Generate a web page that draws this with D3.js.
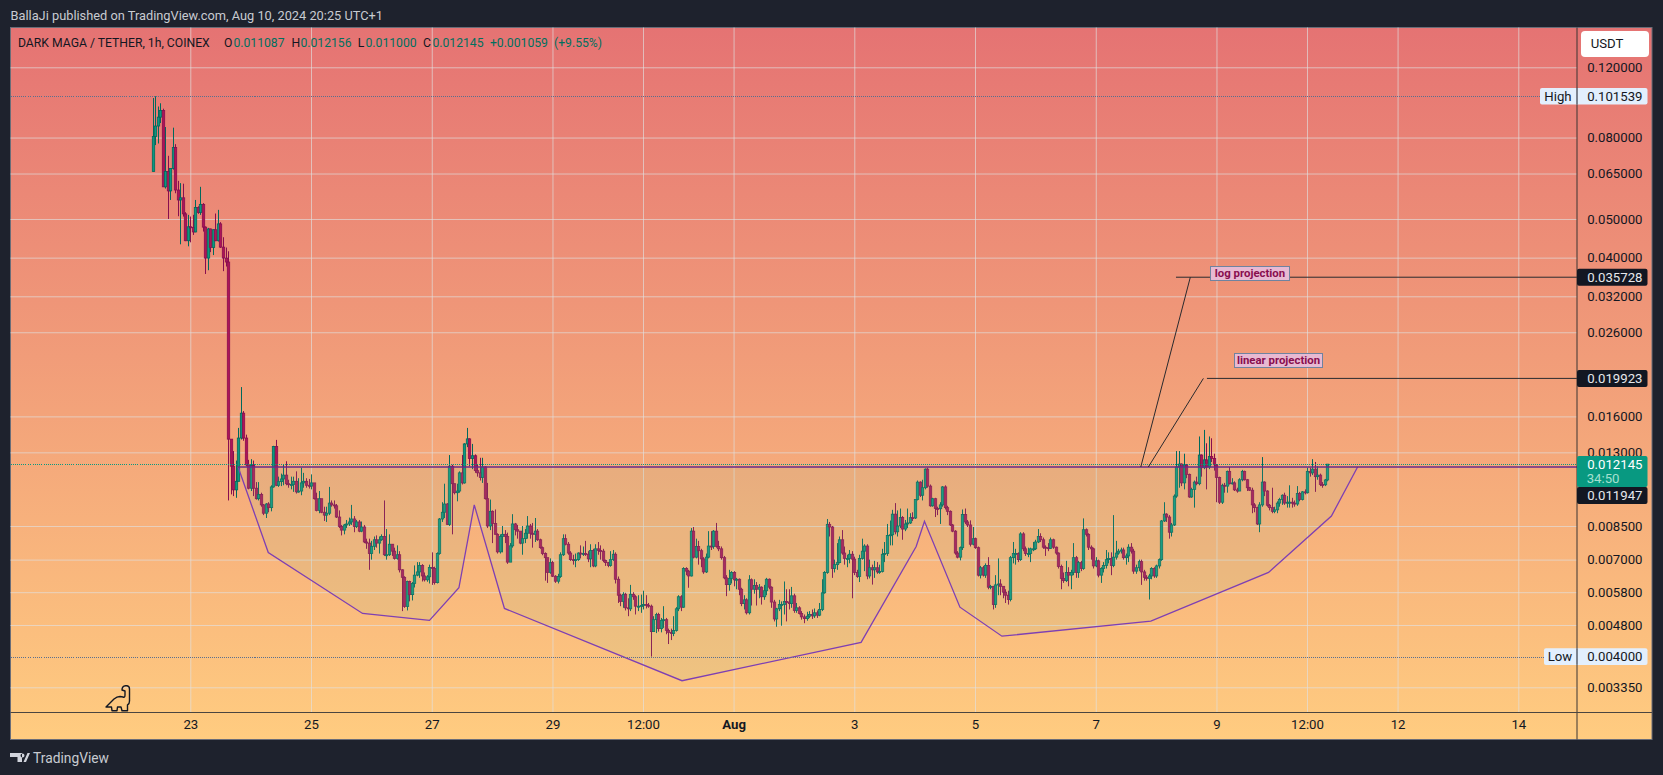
<!DOCTYPE html>
<html><head><meta charset="utf-8">
<style>html,body{margin:0;padding:0;background:#1e222d;overflow:hidden}svg{display:block}text{font-family:Roboto,sans-serif}</style>
<script src="https://cdn.jsdelivr.net/npm/d3@7"></script></head><body><svg id="c" width="1663" height="775"></svg>
<script>
// Prices below are in units of 0.00001 USDT; hourly candles, first one Jul 22 09:00
const priceUnit=1e-5;
const firstOpen=6580;
const closes=[
8050,8550,9000,9350,6020,6580,5880,6690,7550,5910,
5580,5650,5150,4410,4780,4760,4640,5340,5190,5440,
4770,3990,4720,4240,4700,4410,4860,4250,3990,3900,
1403,1200,1047,1100,1412,1630,1412,1210,1057,1205,
1057,995,1020,960,915,965,945,1065,1345,1075,
1098,1115,1140,1085,1080,1080,1100,1035,1040,1090,
1100,1075,1070,1090,995,930,995,920,905,915,
970,960,955,895,847,830,855,860,870,885,
847,870,825,845,775,770,725,756,785,770,
785,800,720,720,765,735,705,720,660,632,
534,617,572,610,640,652,677,637,623,634,
669,665,613,725,885,920,965,858,1200,1085,
1030,1040,1155,1090,1365,1405,1255,1275,1170,1155,
1125,1195,995,850,925,862,810,732,800,810,
800,690,758,860,832,825,770,790,815,850,
815,810,825,785,750,725,708,650,688,636,
618,635,720,790,765,727,700,697,700,727,
723,725,722,703,738,675,745,738,735,697,
688,677,700,722,625,570,550,573,530,527,
573,565,535,535,537,540,538,535,462,495,
510,470,493,495,465,460,457,465,527,565,
532,665,655,637,825,710,755,737,703,652,
710,757,755,825,755,745,708,630,606,628,
650,623,625,590,543,555,515,623,590,603,
590,597,565,585,625,597,548,497,527,540,
540,550,548,543,568,522,530,513,503,498,
505,510,506,515,508,525,578,650,858,845,
665,680,688,785,727,705,705,722,702,650,
635,705,735,757,637,668,660,668,652,654,
722,725,805,808,910,822,850,893,835,860,
865,892,890,990,1095,1015,1060,1180,1070,955,
995,940,939,960,1065,945,925,855,825,727,
710,750,908,870,855,765,790,750,640,668,
640,677,597,600,540,605,608,600,580,570,
556,708,725,725,700,812,745,725,725,745,
745,775,800,785,752,750,747,785,752,727,
673,628,620,650,640,650,708,650,688,665,
832,810,752,745,675,695,640,665,677,700,
705,677,710,727,735,740,708,715,752,735,
655,668,692,652,632,628,637,665,637,675,
700,875,910,895,820,855,1010,1195,1215,1090,
1210,1145,1005,1050,1095,1085,1280,1190,1245,1195,
1270,1255,1210,1125,975,1075,1070,1165,1085,1090,
1047,1040,1110,1165,1110,1060,1045,960,945,860,
960,1095,1040,958,945,925,933,970,990,1015,
970,975,975,970,965,1025,990,1035,1030,1165,
1155,1180,1130,1140,1080,1078,1108.7,1214.5];
const highs=[
10050,10154,9570,9750,9450,8500,7200,6700,8470,7700,
6230,6150,6130,5200,5120,5070,5120,5580,5380,6020,
5480,4790,4750,4730,4710,5160,5270,4910,4500,4240,
4150,1400,1310,1240,1497,1895,1650,1440,1245,1250,
1240,1095,1095,1030,965,970,975,1075,1350,1397,
1130,1150,1215,1235,1110,1130,1130,1165,1120,1190,
1155,1120,1115,1145,1085,1030,1040,985,950,950,
1065,985,985,965,930,855,860,880,892,960,
900,880,880,872,855,790,790,780,800,805,
800,810,985,835,810,765,750,760,735,662,
636,620,620,615,677,690,690,682,650,640,
680,730,672,730,890,975,1085,970,1280,1210,
1085,1085,1165,1280,1370,1497,1410,1365,1285,1215,
1260,1260,1200,1090,990,930,935,815,810,850,
830,818,770,910,865,855,810,850,835,900,
860,865,890,835,790,755,730,700,705,695,
640,645,730,810,810,775,735,720,725,730,
760,755,780,735,765,745,765,775,760,745,
700,690,735,740,730,635,575,580,578,560,
605,580,570,570,572,585,570,545,540,505,
515,515,500,535,500,470,470,505,532,570,
570,670,670,660,840,845,790,780,745,710,
725,825,825,830,865,780,755,715,640,660,
655,655,630,628,595,570,560,640,628,625,
615,608,600,605,630,628,600,555,530,555,
550,617,590,590,598,575,545,535,520,510,
518,520,525,528,522,545,625,655,885,870,
850,700,770,800,830,755,720,740,735,712,
660,720,790,765,765,700,680,695,690,680,
745,775,860,877,933,970,930,940,900,880,
940,915,920,990,1105,1100,1110,1185,1190,1080,
1000,1000,950,975,1070,1075,955,930,860,830,
735,755,935,940,880,878,845,795,755,675,
675,685,710,605,600,640,705,625,600,590,
585,715,775,745,730,820,820,755,750,750,
775,785,835,815,795,760,770,795,790,755,
730,680,650,695,670,660,770,715,695,695,
888,838,815,760,750,710,700,670,690,740,
730,730,905,780,745,750,750,725,765,770,
745,680,700,700,660,640,645,670,670,680,
705,880,975,915,905,865,1020,1310,1310,1220,
1290,1215,1150,1060,1105,1130,1425,1285,1480,1370,
1425,1410,1290,1215,1130,1085,1090,1170,1195,1120,
1100,1060,1120,1175,1170,1115,1065,1060,970,950,
975,1265,1100,1045,965,1060,950,980,1000,1020,
1030,1010,1075,1000,985,1070,1035,1040,1050,1190,
1190,1250,1230,1200,1150,1095,1115,1215.6];
const lows=[
6580,7660,7730,8700,6020,5960,5000,5580,6650,5800,
5080,4320,5070,4400,4270,4370,4560,4630,5150,5120,
4650,3640,3720,4130,4060,4400,4390,4230,3700,3800,
985,1020,1010,1000,1100,1400,1390,1200,1050,1040,
1010,990,985,950,905,890,920,925,1060,1070,
1065,1070,1075,1075,1060,1050,1035,1025,1030,1015,
1060,1060,1055,1050,990,925,915,915,875,870,
905,950,940,890,840,805,810,840,850,855,
820,840,820,820,770,745,660,700,740,750,
725,780,715,700,715,715,700,700,650,520,
530,522,550,553,596,636,630,617,617,616,
610,605,606,610,720,870,890,855,850,810,
1020,980,1030,1080,1085,1340,1200,1180,1155,1130,
1105,1090,990,840,830,770,810,725,725,730,
770,683,690,750,805,790,765,720,770,790,
790,750,775,780,745,718,620,612,645,633,
612,610,630,715,760,720,695,680,670,695,
705,715,715,690,670,670,670,720,700,690,
675,670,672,695,610,545,535,530,522,505,
520,555,510,520,515,525,528,530,400,462,
458,462,460,472,455,430,440,450,462,520,
520,530,640,595,635,705,705,680,670,645,
648,705,740,745,750,735,700,625,567,585,
610,600,590,570,535,525,510,510,537,575,
537,560,540,555,570,590,530,490,475,520,
478,510,490,525,530,515,515,510,495,485,
492,500,497,500,500,505,520,575,645,800,
630,650,660,685,720,680,670,685,560,640,
630,615,700,655,625,628,606,630,645,645,
650,690,715,760,760,810,800,840,785,825,
840,860,875,885,985,1005,985,1050,1060,950,
950,895,905,860,950,935,905,850,820,720,
705,697,740,860,845,755,760,745,635,628,
635,630,590,590,525,530,570,570,560,545,
540,550,685,680,690,695,735,715,710,690,
735,740,770,775,745,715,735,745,745,720,
665,590,612,615,600,590,640,630,630,655,
660,800,740,700,665,670,632,612,650,665,
685,640,670,700,720,725,700,680,690,725,
645,645,655,605,620,620,556,625,630,630,
665,695,870,870,790,800,850,1000,1060,1070,
1050,1120,1000,1000,945,1075,1075,1130,1180,1050,
1180,1230,1170,975,965,965,1030,1030,1080,1080,
1040,1030,1040,1100,1105,1040,1040,915,920,855,
820,950,1010,950,930,915,915,915,950,960,
960,945,945,945,950,955,980,985,1020,1025,
1130,1140,1035,1110,1070,1060,1070,1100];

// Axes
const priceTicks=[0.12,0.08,0.065,0.05,0.04,0.032,0.026,0.016,0.013,0.0085,0.007,0.0058,0.0048,0.00335];
const timeTicks=[["2024-07-23T00","23"],["2024-07-25T00","25"],["2024-07-27T00","27"],["2024-07-29T00","29"],["2024-07-30T12","12:00"],["2024-08-01T00","Aug"],["2024-08-03T00","3"],["2024-08-05T00","5"],["2024-08-07T00","7"],["2024-08-09T00","9"],["2024-08-10T12","12:00"],["2024-08-12T00","12"],["2024-08-14T00","14"]];
// Annotations (hours after Jul 23 00:00, prices in units)
const patternHours=[19,31,68.5,95.1,106.8,112.9,124.9,195.5,266.7,288.6,291.9,306,322.7,381.9,428.7,453.7,464.1];
const patternPrices=[1194.7,729,513,493,595,960,528,348,434,755,873,532,450,491,650,900,1194.7];
const necklinePrice=0.011947, lastPrice=0.012145, highPrice=0.101539, lowPrice=0.004;
const logTarget=0.035728, linTarget=0.019923;
const logLegHours=[377.9,397.6], linLegHours=[380.9,402.8], logLineStart=391.9, linLineStart=404.2;

const P={l:10.5,t:27.5,r:1652,b:739.5,ax:1577,ay:712.5};
const toDate=s=>new Date(s+":00:00Z"), t0=toDate("2024-07-23T00");
const x=d3.scaleUtc().domain([t0,toDate("2024-08-14T00")]).range([190.3,1518.3]);
const xh=h=>x(t0) + (x(toDate("2024-08-14T00"))-x(t0))/(22*24)*h;
const y=d3.scaleLog().domain([0.12,0.00335]).range([67.3,687.3]);
const svg=d3.select("#c"),defs=svg.append("defs");
const g=defs.append("linearGradient").attr("id","bg").attr("x1",0).attr("y1",0).attr("x2",0).attr("y2",1);
g.append("stop").attr("offset",0).attr("stop-color","#e57373");
g.append("stop").attr("offset",1).attr("stop-color","#ffcc80");
svg.append("rect").attr("width",1663).attr("height",775).attr("fill","#1e222d");
svg.append("rect").attr("x",P.l).attr("y",P.t).attr("width",P.r-P.l).attr("height",P.b-P.t).attr("fill","url(#bg)").attr("stroke","#6a6d78").attr("stroke-width",1);

// Grid
const gridColor="rgba(224,224,224,.66)";
const timeDates=timeTicks.map(d=>toDate(d[0]));
const gx=svg.append("g").attr("transform",`translate(0,${P.ay})`).call(d3.axisBottom(x).tickValues(timeDates).tickSize(-(P.ay-P.t)).tickFormat(""));
gx.select(".domain").remove();gx.selectAll("line").attr("stroke",gridColor);
const gy=svg.append("g").attr("transform",`translate(${P.ax},0)`).call(d3.axisLeft(y).tickValues(priceTicks).tickSize(P.ax-P.l).tickFormat(""));
gy.select(".domain").remove();gy.selectAll("line").attr("stroke",gridColor);

// Candles
const candles=closes.map((c,i)=>({t:d3.utcHour.offset(toDate("2024-07-22T09"),i),o:(i?closes[i-1]:firstOpen)*priceUnit,c:c*priceUnit,h:highs[i]*priceUnit,l:lows[i]*priceUnit}));
const upFill="#089981",upEdge="#00695c",dnFill="#ad1457",dnEdge="#880e4f";
const cg=svg.append("g");
cg.selectAll("line").data(candles).join("line").attr("x1",d=>Math.round(x(d.t))+.5).attr("x2",d=>Math.round(x(d.t))+.5)
 .attr("y1",d=>y(d.h)).attr("y2",d=>y(d.l)).attr("stroke",d=>d.c>=d.o?upEdge:dnEdge).attr("stroke-width",1);
cg.selectAll("rect").data(candles).join("rect").attr("x",d=>Math.round(x(d.t))-.7).attr("width",2.4)
 .attr("y",d=>y(Math.max(d.o,d.c))).attr("height",d=>Math.max(1,Math.abs(y(d.o)-y(d.c))))
 .attr("fill",d=>d.c>=d.o?upFill:dnFill).attr("stroke",d=>d.c>=d.o?upEdge:dnEdge).attr("stroke-width",.8);

// Pattern polygon + neckline
const pts=patternHours.map((h,i)=>[xh(h),y(patternPrices[i]*priceUnit)]);
svg.append("path").attr("d",d3.line()(pts)+"Z").attr("fill","rgba(149,195,145,.13)");
svg.append("path").attr("d",d3.line()(pts)).attr("fill","none").attr("stroke","#7e3fb3").attr("stroke-width",1.3);
svg.append("line").attr("x1",xh(patternHours[0])).attr("x2",P.ax).attr("y1",y(necklinePrice)).attr("y2",y(necklinePrice)).attr("stroke","#6a2a8a").attr("stroke-width",1.5);

// Dotted price lines
function dotted(p,col){const yy=Math.round(y(p))+.5;svg.append("line").attr("x1",P.l).attr("x2",P.ax).attr("y1",yy).attr("y2",yy).attr("stroke",col).attr("stroke-width",1).attr("stroke-dasharray","1 1").attr("shape-rendering","crispEdges");}
dotted(lastPrice,"#089981");dotted(highPrice,"#5b6f8f");dotted(lowPrice,"#5b6f8f");

// Projections
const projColor="#2a2a2e";
function seg(x1,y1,x2,y2,w){svg.append("line").attr("x1",x1).attr("y1",y1).attr("x2",x2).attr("y2",y2).attr("stroke",projColor).attr("stroke-width",w||1);}
seg(xh(logLegHours[0]),y(necklinePrice),xh(logLegHours[1]),y(logTarget));
seg(xh(linLegHours[0]),y(necklinePrice),xh(linLegHours[1]),y(linTarget));
seg(xh(logLineStart),y(logTarget),P.ax,y(logTarget));
seg(xh(linLineStart),y(linTarget),P.ax,y(linTarget));
function note(txt,x0,x1,y0,y1){
 svg.append("rect").attr("x",x0).attr("y",y0).attr("width",x1-x0).attr("height",y1-y0).attr("fill","#e8b9d2").attr("stroke","#6f83a0").attr("stroke-width",1);
 svg.append("text").attr("x",(x0+x1)/2).attr("y",(y0+y1)/2+3.8).attr("text-anchor","middle").attr("font-size",11.4).attr("font-weight",700).attr("fill","#880e4f").text(txt);
}
note("log projection",1210.5,1289.5,266.5,280.5);
note("linear projection",1234.5,1322.5,353.5,367.5);

// Axis frame lines
svg.append("line").attr("x1",P.ax).attr("x2",P.ax).attr("y1",P.t).attr("y2",P.b).attr("stroke","#3b3433");
svg.append("line").attr("x1",P.l).attr("x2",P.r).attr("y1",P.ay).attr("y2",P.ay).attr("stroke","#4a4540");

// Axis labels
const ink="#131722";
const ax=svg.append("g").attr("transform",`translate(1642.5,0)`).call(d3.axisLeft(y).tickValues(priceTicks).tickSize(0).tickPadding(0).tickFormat(d3.format(".6f")));
ax.select(".domain").remove();ax.selectAll("text").attr("font-size",13.2).attr("fill",ink).attr("font-family","Roboto,sans-serif");
const bx=svg.append("g").attr("transform",`translate(0,${P.ay+7})`).call(d3.axisBottom(x).tickValues(timeDates).tickSize(0).tickPadding(0).tickFormat((d,i)=>timeTicks[i][1]));
bx.select(".domain").remove();bx.selectAll("text").attr("font-size",13.2).attr("fill",ink).attr("font-family","Roboto,sans-serif").attr("font-weight",(d,i)=>timeTicks[i][1]==="Aug"?700:400);

// Price tags
function tag(x0,x1,y0,y1,fill){svg.append("rect").attr("x",x0).attr("y",y0).attr("width",x1-x0).attr("height",y1-y0).attr("rx",2).attr("fill",fill);}
function label(txt,xp,yc,col,anchor,size){svg.append("text").attr("x",xp).attr("y",yc+4.6).attr("text-anchor",anchor||"end").attr("font-size",size||13.2).attr("fill",col).text(txt);}
const fmt=d3.format(".6f");
function hl(name,p,xl,tc){const yc=y(p);tag(xl,1647.5,yc-8.3,yc+8.3,"#e3effd");svg.append("line").attr("x1",P.ax).attr("x2",P.ax).attr("y1",yc-8.3).attr("y2",yc+8.3).attr("stroke",ink);label(name,tc,yc,ink,"middle");label(fmt(p),1642.5,yc,ink);}
hl("High",highPrice,1540,1558);
hl("Low",lowPrice,1544,1560);
function dark(p,yc){tag(P.ax,1647.5,yc-8.5,yc+8.5,"#131722");label(fmt(p),1642.5,yc,"#e6e8ec");}
dark(logTarget,y(logTarget));dark(linTarget,y(linTarget));
dark(necklinePrice,495.5);
tag(P.ax,1647.5,456,487,"#089981");
label(fmt(lastPrice),1642.5,464.4,"#ffffff");label("34:50",1586.7,478.5,"#a6e0d0","start");

// Currency button
svg.append("rect").attr("x",1581).attr("y",31).attr("width",68).attr("height",26).attr("rx",4).attr("fill","#fff");
label("USDT",1590.7,43.8,ink,"start");

// Legend
const legY=46.5, teal="#00705f";
svg.append("text").attr("x",18).attr("y",legY).attr("font-size",12.2).attr("fill",ink).text("DARK MAGA / TETHER, 1h, COINEX");
[["O",224,ink],["0.011087",233.4,teal],["H",291.6,ink],["0.012156",300.4,teal],["L",357.8,ink],["0.011000",365.5,teal],["C",422.9,ink],["0.012145",432.4,teal],["+0.001059",489.9,teal],["(+9.55%)",554,teal]]
 .forEach(d=>svg.append("text").attr("x",d[1]).attr("y",legY).attr("font-size",12.2).attr("fill",d[2]).text(d[0]));

// Header and footer
svg.append("text").attr("x",10.5).attr("y",19.5).attr("font-size",12.8).attr("fill","#c8cbd1").text("BallaJi published on TradingView.com, Aug 10, 2024 20:25 UTC+1");
svg.append("path").attr("fill","#d1d4dc").attr("d","M10 753h12v9h-4.5v-5H10zM23.5 762l4-9H30l-4 9zM20.5 755.5a2 2 0 1 0 4 0a2 2 0 1 0-4 0z");
svg.append("text").attr("x",33).attr("y",762.5).attr("font-size",13.8).attr("fill","#c8cbd1").text("TradingView");

// Dino mark
svg.append("path").attr("fill","none").attr("stroke",ink).attr("stroke-width",1.4).attr("stroke-linejoin","round")
 .attr("d","M106 707L114 699Q117 696.5 120 696.5L123 697Q125 698 125 695V691L122 690Q122 686 125.5 685.7H127Q129.5 686 129.5 689V701Q129.5 704 127.5 705V710.7H122L121 707H117.5L117 710.7H112L111.5 707Z");
</script></body></html>
